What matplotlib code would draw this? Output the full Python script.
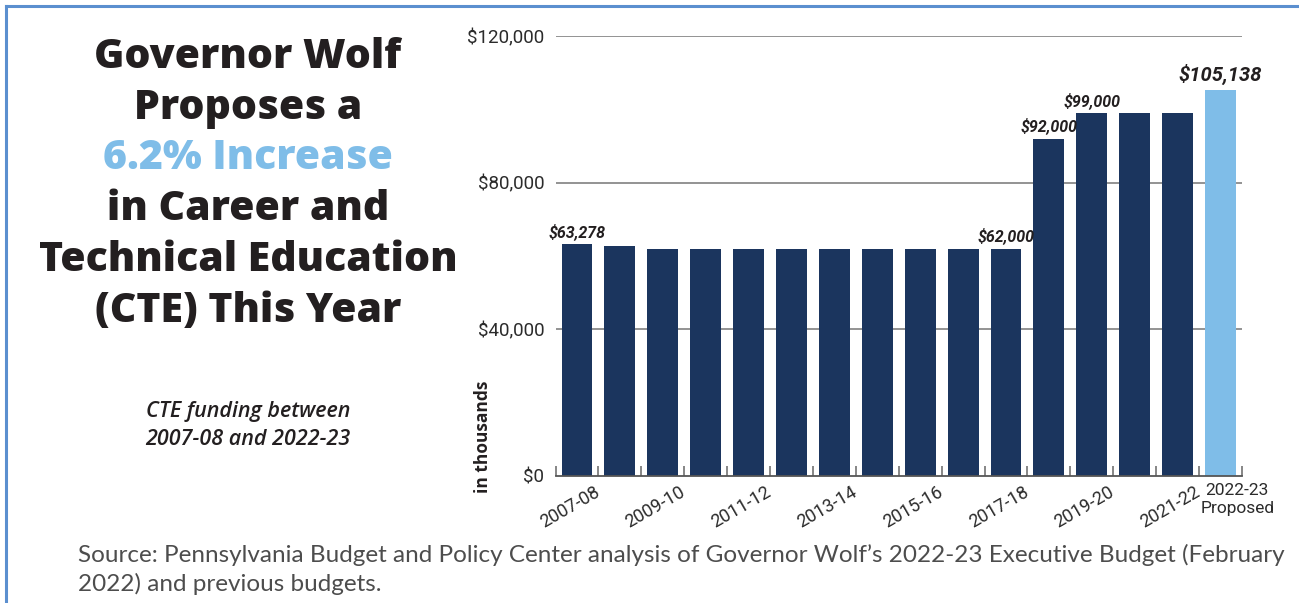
import matplotlib
matplotlib.use("Agg")
import matplotlib.pyplot as plt
from matplotlib.lines import Line2D

# CTE funding by fiscal year, in thousands of dollars
years = ["2007-08", "2008-09", "2009-10", "2010-11", "2011-12", "2012-13",
         "2013-14", "2014-15", "2015-16", "2016-17", "2017-18", "2018-19",
         "2019-20", "2020-21", "2021-22", "2022-23"]
funding = [63278, 62600, 62000, 62000, 62000, 62000, 62000, 62000, 62000,
           62000, 62000, 92000, 99000, 99000, 99000, 105138]
proposed = [False] * 15 + [True]

# Value annotations: bar index -> text
value_labels = {0: "$63,278", 10: "$62,000", 11: "$92,000",
                12: "$99,000", 15: "$105,138"}

x_tick_labels = ["2007-08", "2009-10", "2011-12", "2013-14", "2015-16",
                 "2017-18", "2019-20", "2021-22"]
y_ticks = [0, 40000, 80000, 120000]
y_tick_labels = ["$0", "$40,000", "$80,000", "$120,000"]

title_lines = ["Governor Wolf", "Proposes a", "6.2% Increase",
               "in Career and", "Technical Education", "(CTE) This Year"]
subtitle_lines = ["CTE funding between", "2007-08 and 2022-23"]
source_lines = ["Source: Pennsylvania Budget and Policy Center analysis of Governor Wolf\u2019s 2022-23 Executive Budget (February",
                "2022) and previous budgets."]

NAVY = "#1b355e"
LIGHT = "#7fbde8"
INK = "#231f20"
LABEL = "#2b2b2b"
GRID = "#8a8a8a"
FRAME = "#5b8fcf"
COND = "Roboto"

W, H = 1299, 603
fig = plt.figure(figsize=(W / 100, H / 100), dpi=100)

def fx(px):
    return px / W

def fy(py):
    return 1 - py / H

# Frame lines along top and left edges
fig.add_artist(Line2D([fx(6), 1.0], [fy(6), fy(6)], color=FRAME, lw=2.2,
                      transform=fig.transFigure))
fig.add_artist(Line2D([fx(6), fx(6)], [fy(6), 0.0], color=FRAME, lw=2.2,
                      transform=fig.transFigure))

# Headline
title_baselines = [68, 119, 169, 220, 271, 322]
for line, base in zip(title_lines, title_baselines):
    color = LIGHT if "Increase" in line else INK
    fig.text(fx(248), fy(base), line, ha="center", va="baseline",
             fontsize=29.5, fontweight=800, family="Open Sans", color=color)

for line, base in zip(subtitle_lines, [417, 445]):
    fig.text(fx(248), fy(base), line, ha="center", va="baseline",
             fontsize=15.5, fontweight="semibold", fontstyle="italic",
             family="Open Sans", color=INK)

for line, base in zip(source_lines, [562, 591]):
    fig.text(fx(78), fy(base), line, ha="left", va="baseline",
             fontsize=17.5, fontweight="normal", family="Lato", color="#4d4d4d")

# Bar chart
ax = fig.add_axes([fx(555.5), fy(476), fx(1242) - fx(555.5), fy(36) - fy(476)])
xs = list(range(len(years)))
colors = [LIGHT if p else NAVY for p in proposed]
ax.bar(xs, funding, width=0.72, color=colors, zorder=3)

ax.set_xlim(-0.5, len(years) - 0.5)
ax.set_ylim(0, 120000)
ax.set_yticks(y_ticks)
ax.set_yticklabels(y_tick_labels, family=COND, fontsize=13.5, color=LABEL)
ax.tick_params(axis="y", length=0, pad=8)
for yv in y_ticks[1:]:
    ax.axhline(yv, color=GRID, lw=1.3, zorder=1)

for s in ["top", "right", "left"]:
    ax.spines[s].set_visible(False)
ax.spines["bottom"].set_color("#555555")
ax.spines["bottom"].set_linewidth(1.3)
ax.spines["bottom"].set_zorder(4)

ax.set_xticks([i - 0.5 for i in range(len(years) + 1)])
ax.set_xticklabels([])
ax.tick_params(axis="x", direction="in", length=7.5, width=1.1, color="#666666")

ax.set_ylabel("in thousands", family="Open Sans", fontweight="bold",
              fontsize=12.5, color=INK)
ax.yaxis.set_label_coords(-0.092, 0.09)

# Category labels under every other bar
for lab in x_tick_labels:
    i = years.index(lab)
    ax.annotate(lab, xy=(i, 0), xycoords=("data", "axes fraction"),
                xytext=(12, -5), textcoords="offset points", ha="right",
                va="top", rotation=30, rotation_mode="anchor",
                family=COND, fontsize=13, color=LABEL)
last = len(years) - 1
ax.annotate(years[last] + "\nProposed", xy=(last, 0),
            xycoords=("data", "axes fraction"), xytext=(12, -5),
            textcoords="offset points", ha="center", va="top",
            family=COND, fontsize=12.5, color=LABEL, linespacing=1.25)

# Value labels above selected bars
for i, txt in value_labels.items():
    big = i == last
    ax.annotate(txt, xy=(i, funding[i]), xytext=(0, 4 if big else 3),
                textcoords="offset points", ha="center", va="bottom",
                family=COND, fontweight="bold", fontstyle="italic",
                fontsize=14.5 if big else 11.5, color=INK)

fig.savefig("out.png", dpi=100)
